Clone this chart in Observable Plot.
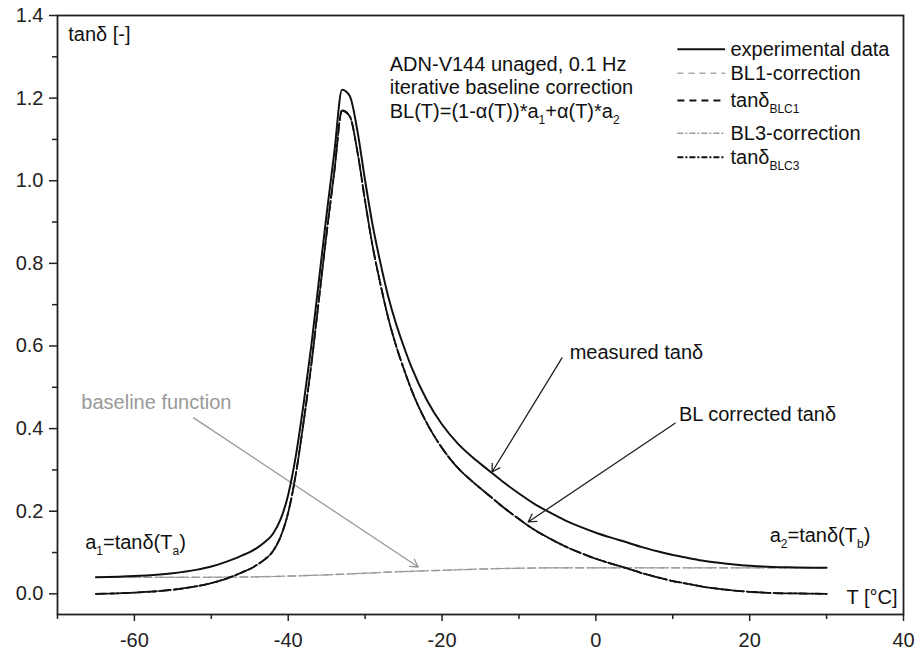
<!DOCTYPE html>
<html><head><meta charset="utf-8">
<script src="https://cdn.jsdelivr.net/npm/d3@7"></script>
<script src="https://cdn.jsdelivr.net/npm/@observablehq/plot@0.6"></script>
<style>
body{margin:0;background:#fff;}
#chart svg{display:block;}
</style></head><body><div id="chart"></div>
<script>
// ---- data ----
const temperature = [-65,-60,-55,-52,-50,-48,-46,-45,-44,-43,-42,-41,-40,-39,-38,-37,-36,-35,-34,-33,-32,-31,-30,-29,-28,-27,-26,-25,-24,-22,-20,-18,-16,-14,-12,-10,-8,-6,-4,-2,0,2,4,6,8,10,12,14,16,18,20,23,26,30];
const tanMeasured = [0.040,0.043,0.050,0.058,0.066,0.078,0.093,0.101,0.112,0.126,0.145,0.180,0.240,0.335,0.46,0.60,0.76,0.92,1.07,1.22,1.205,1.12,1.00,0.89,0.80,0.72,0.655,0.60,0.55,0.47,0.41,0.365,0.33,0.30,0.27,0.243,0.218,0.197,0.178,0.162,0.148,0.136,0.125,0.113,0.103,0.094,0.087,0.080,0.075,0.071,0.068,0.065,0.064,0.063];
const tanCorrected = [0.000,0.003,0.010,0.018,0.026,0.037,0.052,0.060,0.071,0.084,0.103,0.138,0.197,0.291,0.416,0.555,0.714,0.874,1.023,1.170,1.156,1.070,0.950,0.839,0.749,0.668,0.602,0.546,0.495,0.414,0.353,0.306,0.271,0.240,0.209,0.181,0.155,0.134,0.115,0.099,0.085,0.073,0.062,0.050,0.040,0.031,0.024,0.017,0.012,0.008,0.005,0.002,0.001,0.000];
const baselineTemperature = [-65,-55,-45,-40,-35,-30,-25,-20,-15,-10,-5,0,10,20,30];
const baselineValue = [0.040,0.040,0.041,0.043,0.046,0.050,0.054,0.057,0.060,0.062,0.063,0.063,0.063,0.063,0.063];

const xTicks = [-60,-40,-20,0,20,40];
const xMinorTicks = [-70,-50,-30,-10,10,30];
const yTicks = [0,0.2,0.4,0.6,0.8,1.0,1.2,1.4];
const yMinorTicks = [0.1,0.3,0.5,0.7,0.9,1.1,1.3];

const legendLabels = ["experimental data","BL1-correction","tanδ_{BLC1}","BL3-correction","tanδ_{BLC3}"];
const infoLines = ["ADN-V144 unaged, 0.1 Hz","iterative baseline correction","BL(T)=(1-α(T))*a_{1}+α(T)*a_{2}"];
const noteLabels = ["baseline function","measured tanδ","BL corrected tanδ","a_{1}=tanδ(T_{a})","a_{2}=tanδ(T_{b})","T [°C]","tanδ [-]"];

// ---- layout (data units) ----
const legendPos = {x1: 10.6, x2: 16.8, xText: 17.5, y: [1.318,1.260,1.194,1.115,1.057]};
const infoPos = {x: -26.8, y: [1.281,1.226,1.168]};
const notePos = [[-66.9,0.462],[-3.4,0.585],[10.8,0.433],[-66.4,0.123],[22.6,0.140],[32.6,-0.01],[-68.6,1.354]];
const arrowPos = [[-52.3,0.426,-23.1,0.065],[-4.4,0.571,-13.5,0.295],[10.3,0.413,-8.8,0.174]];

const measured = temperature.map((t,i)=>({t, v: tanMeasured[i]}));
const corrected = temperature.map((t,i)=>({t, v: tanCorrected[i]}));
const baseline = baselineTemperature.map((t,i)=>({t, v: baselineValue[i]}));

const legendStyles = [
  {stroke:"#111", strokeWidth:2, dash:null},
  {stroke:"#aaa", strokeWidth:1.5, dash:"6,5"},
  {stroke:"#111", strokeWidth:2, dash:"7,5"},
  {stroke:"#999", strokeWidth:1.3, dash:"6,2,2,2"},
  {stroke:"#111", strokeWidth:2, dash:"6,2,2,2"}
];

const legendMarks = [];
legendLabels.forEach((lab,i)=>{
  const st = legendStyles[i];
  legendMarks.push(Plot.link([{x1:legendPos.x1,x2:legendPos.x2,y:legendPos.y[i]}],{x1:"x1",x2:"x2",y1:"y",y2:"y",stroke:st.stroke,strokeWidth:st.strokeWidth,strokeDasharray:st.dash||undefined}));
});
legendMarks.push(Plot.text(legendLabels.map((l,i)=>({l, y: legendPos.y[i]})),{x:()=>legendPos.xText,y:"y",text:"l",textAnchor:"start",lineAnchor:"middle",fill:"#111"}));

const notes = noteLabels.map((l,i)=>({l, x: notePos[i][0], y: notePos[i][1], gray: i===0}));
const arrows = arrowPos.map((a,i)=>({x1:a[0],y1:a[1],x2:a[2],y2:a[3],gray:i===0}));

const chart = Plot.plot({
  width: 917, height: 650,
  marginLeft: 57, marginRight: 14, marginTop: 15, marginBottom: 36,
  x: {domain: [-70, 40]},
  y: {domain: [-0.05, 1.4]},
  style: {fontFamily: "'Liberation Sans', Arial, sans-serif", fontSize: "20px", color: "#222", background: "#fff", overflow: "visible"},
  marks: [
    Plot.axisX(xTicks, {tickSize: 7, tickPadding: 11, tickFormat: d => String(d), label: null, strokeWidth: 1.5}),
    Plot.axisX(xMinorTicks, {tickSize: 5, tickFormat: () => "", label: null, strokeWidth: 1.5}),
    Plot.axisY(yTicks, {tickSize: 8, tickPadding: 6, tickFormat: d3.format(".1f"), label: null, strokeWidth: 1.5}),
    Plot.axisY(yMinorTicks, {tickSize: 5, tickFormat: () => "", label: null, strokeWidth: 1.5}),
    Plot.line(baseline, {x:"t", y:"v", stroke:"#aaa", strokeWidth:1.5, strokeDasharray:"7,5", curve:"monotone-x"}),
    Plot.line(baseline, {x:"t", y:"v", stroke:"#999", strokeWidth:1.2, strokeDasharray:"8,3,2,3", curve:"monotone-x"}),
    Plot.arrow(arrows.filter(d=>d.gray), {x1:"x1",y1:"y1",x2:"x2",y2:"y2",stroke:"#999",strokeWidth:1.3,headLength:10}),
    Plot.line(corrected, {x:"t", y:"v", stroke:"#111", strokeWidth:1.8, strokeDasharray:"9,4", curve:"monotone-x"}),
    Plot.line(corrected, {x:"t", y:"v", stroke:"#111", strokeWidth:1.8, strokeDasharray:"12,3,3,3", curve:"monotone-x"}),
    Plot.line(measured, {x:"t", y:"v", stroke:"#111", strokeWidth:2, curve:"monotone-x"}),
    Plot.arrow(arrows.filter(d=>!d.gray), {x1:"x1",y1:"y1",x2:"x2",y2:"y2",stroke:"#222",strokeWidth:1.3,headLength:10}),
    Plot.text(notes.filter(d=>d.gray), {x:"x",y:"y",text:"l",textAnchor:"start",lineAnchor:"middle",fill:"#999"}),
    Plot.text(notes.filter(d=>!d.gray), {x:"x",y:"y",text:"l",textAnchor:"start",lineAnchor:"middle",fill:"#111"}),
    Plot.text(infoLines.map((l,i)=>({l, y: infoPos.y[i]})), {x:()=>infoPos.x,y:"y",text:"l",textAnchor:"start",lineAnchor:"middle",fill:"#111"}),
    ...legendMarks,
    Plot.frame({stroke:"#222", strokeWidth:1.8})
  ]
});

// subscripts written as _{...}
const NS = "http://www.w3.org/2000/svg";
chart.querySelectorAll("text, tspan").forEach(el => {
  if (el.children.length) return;
  const s = el.textContent;
  if (!s.includes("_{")) return;
  const parts = s.split(/(_\{[^}]*\})/);
  el.textContent = "";
  let shifted = false;
  for (const p of parts) {
    if (!p) continue;
    const ts = document.createElementNS(NS, "tspan");
    if (p.startsWith("_{")) {
      ts.textContent = p.slice(2, -1);
      ts.setAttribute("font-size", "12");
      if (!shifted) ts.setAttribute("dy", "6");
      shifted = true;
    } else {
      ts.textContent = p;
      if (shifted) { ts.setAttribute("dy", "-6"); shifted = false; }
    }
    el.appendChild(ts);
  }
});

document.getElementById("chart").appendChild(chart);
</script>
</body></html>
